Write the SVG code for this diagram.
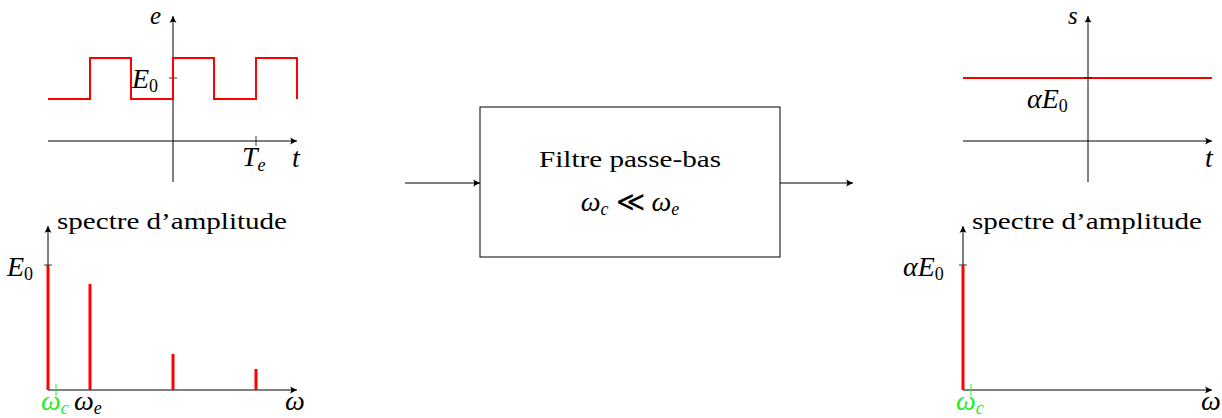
<svg xmlns="http://www.w3.org/2000/svg" width="1222" height="418" viewBox="0 0 1222 418">
<style>
.ax{stroke:#000;stroke-width:1;fill:none}
.tk{stroke:#000;stroke-width:0.8;fill:none}
.sig{stroke:#ff0000;stroke-width:2;fill:none}
.bar{stroke:#ff0000;stroke-width:3;fill:none}
.gt{stroke:#22ee22;stroke-width:1;fill:none}
.m{font-family:"Liberation Serif","DejaVu Serif",serif;font-style:italic;font-size:28px;fill:#000}
.r{font-family:"Liberation Serif","DejaVu Serif",serif;font-size:23px;fill:#000}
.g{fill:#22ee22}
.sub{font-size:18px}
.top{font-size:25px}
</style>
<defs>
<marker id="arr" viewBox="-8 -5 10 10" refX="0" refY="0" markerWidth="10" markerHeight="10" orient="auto" markerUnits="userSpaceOnUse">
<path d="M0,0 L-7,-3.5 Q-4.5,0 -7,3.5 Z" fill="#000"/>
</marker>
</defs>

<g id="plot-e">
<line class="ax" x1="48" y1="141" x2="297" y2="141" marker-end="url(#arr)"/>
<line class="ax" x1="173" y1="182" x2="173" y2="16" marker-end="url(#arr)"/>
<line class="tk" x1="256" y1="136" x2="256" y2="146"/>
<line class="tk" x1="169" y1="78" x2="177" y2="78"/>
<polyline class="sig" points="48,99 90,99 90,58 131,58 131,99 173,99 173,58 214,58 214,99 256,99 256,58 297,58 297,99"/>
<text class="m top" x="150" y="24">e</text>
<text class="m" x="132" y="88">E<tspan class="sub" font-style="normal" dy="4">0</tspan></text>
<text class="m" x="242" y="166">T<tspan class="sub" dy="5">e</tspan></text>
<text class="m" x="292" y="167">t</text>
</g>

<g id="spectrum-e">
<line class="ax" x1="48" y1="390" x2="297" y2="390" marker-end="url(#arr)"/>
<line class="ax" x1="48" y1="390" x2="48" y2="226" marker-end="url(#arr)"/>
<line class="tk" x1="44" y1="265" x2="52" y2="265"/>
<line class="bar" x1="48" y1="390" x2="48" y2="265"/>
<line class="bar" x1="90" y1="390" x2="90" y2="284"/>
<line class="bar" x1="173" y1="390" x2="173" y2="354"/>
<line class="bar" x1="256" y1="390" x2="256" y2="369"/>
<line class="gt" x1="56" y1="384" x2="56" y2="396"/>
<text class="r" x="57" y="229" textLength="230" lengthAdjust="spacingAndGlyphs">spectre d’amplitude</text>
<text class="m" x="7" y="276">E<tspan class="sub" font-style="normal" dy="4">0</tspan></text>
<text class="m g" x="41" y="410">ω<tspan class="sub" dy="4">c</tspan></text>
<text class="m" x="74" y="410">ω<tspan class="sub" dy="4">e</tspan></text>
<text class="m" x="285" y="410">ω</text>
</g>

<g id="filter">
<rect x="480" y="107" width="300" height="150" fill="#fff" stroke="#000" stroke-width="1"/>
<text class="r" x="630" y="167" text-anchor="middle" textLength="182" lengthAdjust="spacingAndGlyphs">Filtre passe-bas</text>
<text class="m" x="630" y="211" text-anchor="middle">ω<tspan class="sub" dy="4">c</tspan><tspan dy="-4" font-style="normal"> ≪ </tspan>ω<tspan class="sub" dy="4">e</tspan></text>
</g>

<g id="plot-s">
<line class="ax" x1="963" y1="141" x2="1212" y2="141" marker-end="url(#arr)"/>
<line class="ax" x1="1088" y1="182" x2="1088" y2="16" marker-end="url(#arr)"/>
<line class="sig" x1="963" y1="78" x2="1212" y2="78"/>
<line class="tk" x1="1084" y1="78" x2="1092" y2="78"/>
<text class="m top" x="1068" y="24">s</text>
<text class="m" x="1027" y="108">αE<tspan class="sub" font-style="normal" dy="4">0</tspan></text>
<text class="m" x="1205" y="167">t</text>
</g>

<g id="spectrum-s">
<line class="ax" x1="963" y1="390" x2="1212" y2="390" marker-end="url(#arr)"/>
<line class="ax" x1="963" y1="390" x2="963" y2="226" marker-end="url(#arr)"/>
<line class="tk" x1="959" y1="265" x2="967" y2="265"/>
<line class="bar" x1="963" y1="390" x2="963" y2="265"/>
<line class="gt" x1="971" y1="384" x2="971" y2="396"/>
<text class="r" x="972" y="229" textLength="230" lengthAdjust="spacingAndGlyphs">spectre d’amplitude</text>
<text class="m" x="903" y="276">αE<tspan class="sub" font-style="normal" dy="4">0</tspan></text>
<text class="m g" x="956" y="410">ω<tspan class="sub" dy="4">c</tspan></text>
<text class="m" x="1201" y="410">ω</text>
</g>

<g id="connectors">
<line class="ax" x1="405" y1="183" x2="480" y2="183" marker-end="url(#arr)"/>
<line class="ax" x1="780" y1="183" x2="853" y2="183" marker-end="url(#arr)"/>
</g>
</svg>
